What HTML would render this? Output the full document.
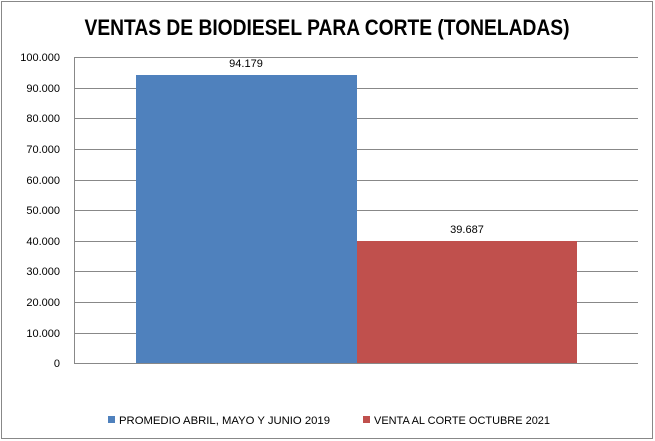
<!DOCTYPE html>
<html><head><style>body{margin:0;background:#fff}svg{display:block}</style></head><body>
<svg width="655" height="441" xmlns="http://www.w3.org/2000/svg" font-family="Liberation Sans, sans-serif">
<rect x="1.5" y="1.5" width="651" height="437" fill="#fff" stroke="#888" stroke-width="1"/>
<text x="327" y="35" text-anchor="middle" font-size="22" font-weight="bold" textLength="485" lengthAdjust="spacingAndGlyphs">VENTAS DE BIODIESEL PARA CORTE (TONELADAS)</text>
<g stroke="#888" stroke-width="1">
<line x1="74" y1="57.5" x2="638" y2="57.5"/>
<line x1="74" y1="88.5" x2="638" y2="88.5"/>
<line x1="74" y1="118.5" x2="638" y2="118.5"/>
<line x1="74" y1="149.5" x2="638" y2="149.5"/>
<line x1="74" y1="180.5" x2="638" y2="180.5"/>
<line x1="74" y1="210.5" x2="638" y2="210.5"/>
<line x1="74" y1="241.5" x2="638" y2="241.5"/>
<line x1="74" y1="271.5" x2="638" y2="271.5"/>
<line x1="74" y1="302.5" x2="638" y2="302.5"/>
<line x1="74" y1="333.5" x2="638" y2="333.5"/>
<line x1="74.5" y1="57" x2="74.5" y2="363"/>
</g>
<rect x="136" y="75" width="221" height="288" fill="#4f81bd"/>
<rect x="357" y="241" width="220" height="122" fill="#c0504d"/>
<line x1="74" y1="363.5" x2="638" y2="363.5" stroke="#888"/>
<g font-size="11" text-anchor="end" fill="#000">
<text x="60" y="61">100.000</text>
<text x="60" y="92">90.000</text>
<text x="60" y="122">80.000</text>
<text x="60" y="153">70.000</text>
<text x="60" y="184">60.000</text>
<text x="60" y="214">50.000</text>
<text x="60" y="245">40.000</text>
<text x="60" y="275">30.000</text>
<text x="60" y="306">20.000</text>
<text x="60" y="337">10.000</text>
<text x="60" y="367">0</text>
</g>
<g font-size="11" text-anchor="middle">
<text x="246" y="67">94.179</text>
<text x="467" y="233">39.687</text>
</g>
<rect x="108" y="416" width="7" height="7" fill="#4f81bd"/>
<text x="119" y="424" font-size="11" textLength="211" lengthAdjust="spacingAndGlyphs">PROMEDIO ABRIL, MAYO Y JUNIO 2019</text>
<rect x="363" y="416" width="7" height="7" fill="#c0504d"/>
<text x="374" y="424" font-size="11" textLength="176" lengthAdjust="spacingAndGlyphs">VENTA AL CORTE OCTUBRE 2021</text>
</svg>
</body></html>
